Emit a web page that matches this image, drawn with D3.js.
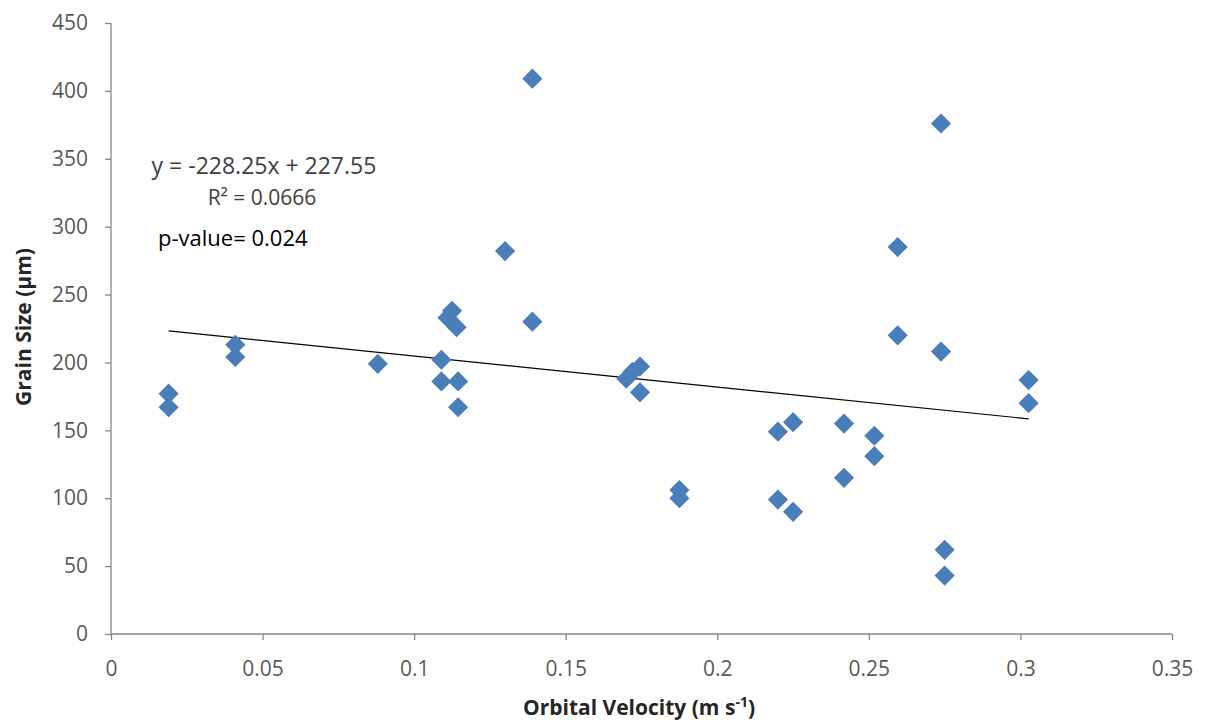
<!DOCTYPE html>
<html>
<head>
<meta charset="utf-8">
<script src="https://cdn.jsdelivr.net/npm/d3@7"></script>
<style>
  html, body { margin: 0; padding: 0; background: #ffffff; }
  svg { display: block; font-family: "Open Sans", "Noto Sans", sans-serif; }
</style>
</head>
<body>
<svg id="chart" width="1207" height="725"></svg>
<script>
// Orbital velocity (m/s) and grain size (µm) for each sample
const velocity = [
  0.019, 0.019, 0.041, 0.041, 0.088,
  0.111, 0.1125, 0.114, 0.109, 0.109, 0.1145, 0.1145,
  0.130, 0.139, 0.139,
  0.170, 0.172, 0.1745, 0.1745,
  0.1875, 0.1875,
  0.220, 0.225, 0.220, 0.225,
  0.2418, 0.2418, 0.2518, 0.2518,
  0.2595, 0.2595, 0.2738, 0.2738, 0.275, 0.275,
  0.3027, 0.3027
];
const grainSize = [
  177, 167, 213, 204, 199,
  233, 238, 226, 202, 186, 186, 167,
  282, 409, 230,
  188, 193, 197, 178,
  106, 100,
  149, 156, 99, 90,
  155, 115, 146, 131,
  285, 220, 376, 208, 62, 43,
  187, 170
];

// Linear fit reported on the chart
const fitSlope = -228.25;
const fitIntercept = 227.55;
const fitR2 = 0.0666;
const pValue = 0.024;

const xTicks = [0, 0.05, 0.1, 0.15, 0.2, 0.25, 0.3, 0.35];
const yTicks = [0, 50, 100, 150, 200, 250, 300, 350, 400, 450];

const svg = d3.select("#chart");
const plotLeft = 111, plotRight = 1172, plotTop = 23, plotBottom = 634;

const x = d3.scaleLinear().domain([0, 0.35]).range([plotLeft, plotRight]);
const y = d3.scaleLinear().domain([0, 450]).range([plotBottom, plotTop]);

const axisColor = "#868686";
const labelColor = "#595959";

// Y axis
const yAxis = svg.append("g")
  .attr("transform", `translate(${plotLeft},0)`)
  .call(d3.axisLeft(y).tickValues(yTicks).tickSize(6).tickPadding(17).tickFormat(d3.format("d")));
// X axis
const xAxis = svg.append("g")
  .attr("transform", `translate(0,${plotBottom})`)
  .call(d3.axisBottom(x).tickValues(xTicks).tickSize(6).tickPadding(21).tickFormat(d => d === 0 ? "0" : String(d)));

[yAxis, xAxis].forEach(g => {
  g.attr("font-family", null).attr("font-size", null);
  g.select(".domain").attr("stroke", axisColor).attr("stroke-width", 1.3);
  g.selectAll(".tick line").attr("stroke", axisColor).attr("stroke-width", 1.3);
  g.selectAll(".tick text")
    .attr("fill", labelColor)
    .style("font-size", "21px");
});
// plain axis lines without end caps
yAxis.select(".domain").attr("d", `M0,${plotBottom}V${plotTop}`);
xAxis.select(".domain").attr("d", `M${plotLeft},0H${plotRight}`);

// Trend line across the observed velocity range
const [xMin, xMax] = d3.extent(velocity);
svg.append("line")
  .attr("x1", x(xMin)).attr("y1", y(fitSlope * xMin + fitIntercept))
  .attr("x2", x(xMax)).attr("y2", y(fitSlope * xMax + fitIntercept))
  .attr("stroke", "#000000")
  .attr("stroke-width", 1.2);

// Diamond markers
const diamond = d3.symbol().type(d3.symbolDiamond2).size(260);
svg.append("g")
  .selectAll("path")
  .data(velocity.map((v, i) => [v, grainSize[i]]))
  .join("path")
  .attr("d", diamond)
  .attr("transform", d => `translate(${x(d[0])},${y(d[1])})`)
  .attr("fill", "#4a7ebb");

// Axis titles
svg.append("text")
  .attr("x", 639)
  .attr("y", 715)
  .attr("text-anchor", "middle")
  .attr("font-weight", "bold")
  .attr("fill", "#262626")
  .style("font-size", "21px")
  .call(t => {
    t.append("tspan").text("Orbital Velocity (m s");
    t.append("tspan").attr("dy", -8).style("font-size", "14px").text("-1");
    t.append("tspan").attr("dy", 8).text(")");
  });

svg.append("text")
  .attr("transform", "translate(31,327) rotate(-90)")
  .attr("text-anchor", "middle")
  .attr("font-weight", "bold")
  .attr("fill", "#262626")
  .style("font-size", "21px")
  .text("Grain Size (µm)");

// Fit annotation
svg.append("text")
  .attr("x", 264).attr("y", 174)
  .attr("text-anchor", "middle")
  .attr("fill", "#404040")
  .style("font-size", "23px")
  .text(`y = ${fitSlope}x + ${fitIntercept}`);
svg.append("text")
  .attr("x", 262).attr("y", 205)
  .attr("text-anchor", "middle")
  .attr("fill", "#404040")
  .style("font-size", "21px")
  .text(`R² = ${fitR2}`);
svg.append("text")
  .attr("x", 158).attr("y", 246)
  .attr("fill", "#000000")
  .style("font-size", "22px")
  .text(`p-value= ${pValue}`);
</script>
</body>
</html>
